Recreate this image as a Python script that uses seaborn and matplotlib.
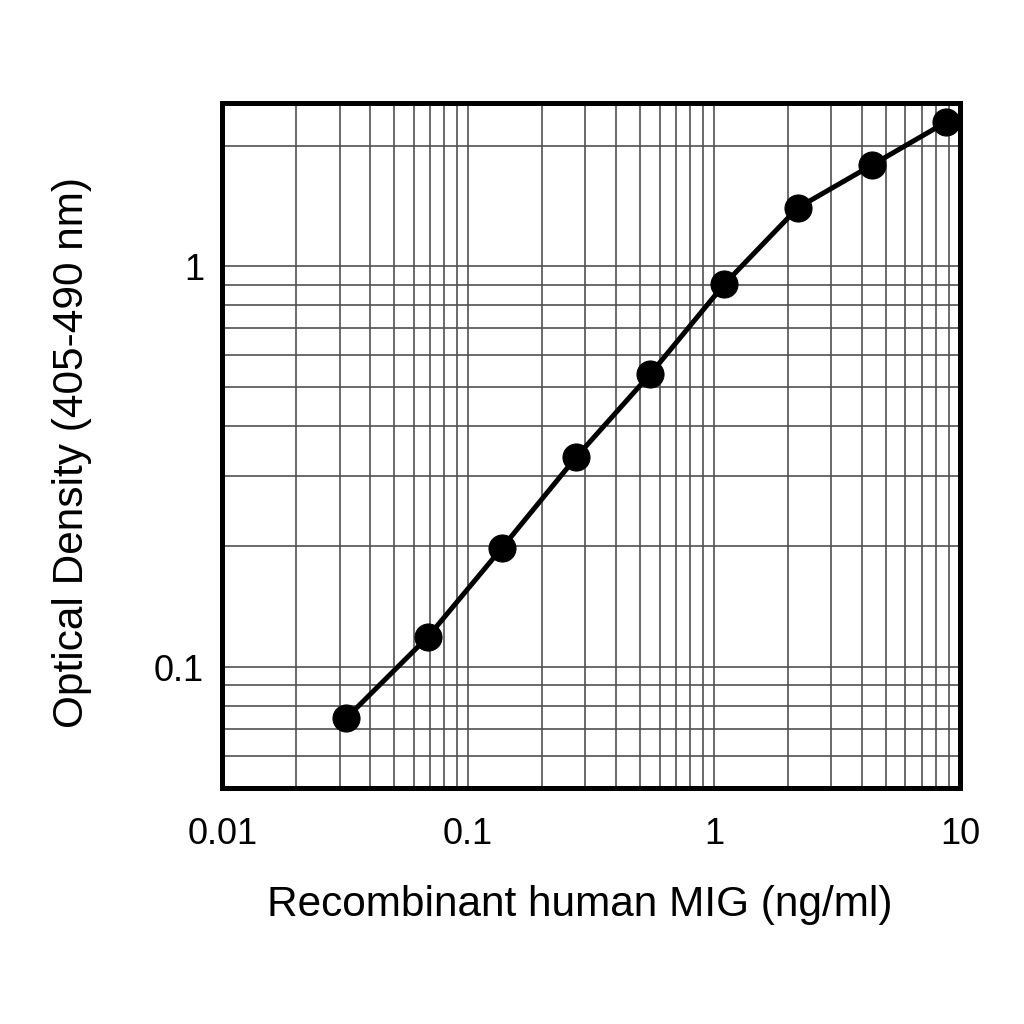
import matplotlib
matplotlib.use("Agg")
import matplotlib.pyplot as plt
import matplotlib.ticker as mticker
import seaborn as sns
import pandas as pd

concentration = [0.032, 0.0687, 0.137, 0.275, 0.55, 1.1, 2.19, 4.39, 8.77]
optical_density = [0.0746, 0.119, 0.198, 0.334, 0.538, 0.902, 1.40, 1.79, 2.29]
x_ticks = [0.01, 0.1, 1, 10]
x_tick_labels = ["0.01", "0.1", "1", "10"]
y_ticks = [0.1, 1]
y_tick_labels = ["0.1", "1"]

sns.set_style("white")
plt.rcParams['font.family'] = ['Liberation Sans', 'DejaVu Sans']

df = pd.DataFrame({"conc": concentration, "od": optical_density})

fig = plt.figure(figsize=(10.24, 10.24), dpi=100)
ax = fig.add_axes([0.217, 0.2305, 0.7205, 0.6685])

ax.set_xscale("log")
ax.set_yscale("log")
ax.set_xlim(0.01, 10)
ax.set_ylim(0.0499, 2.55)

ax.xaxis.set_major_locator(mticker.FixedLocator(x_ticks))
ax.xaxis.set_minor_locator(mticker.LogLocator(base=10, subs=range(2, 10), numticks=20))
ax.yaxis.set_major_locator(mticker.FixedLocator(y_ticks))
ax.yaxis.set_minor_locator(mticker.LogLocator(base=10, subs=range(2, 10), numticks=20))
ax.set_xticklabels(x_tick_labels)
ax.set_yticklabels(y_tick_labels)
ax.xaxis.set_minor_formatter(mticker.NullFormatter())
ax.yaxis.set_minor_formatter(mticker.NullFormatter())

ax.grid(True, which="both", color="#505050", linewidth=1.2)
ax.set_axisbelow(True)

sns.lineplot(data=df, x="conc", y="od", ax=ax, color="black", linewidth=3.6,
             marker="o", markersize=19.5, markeredgecolor="black", markerfacecolor="black")

for s in ax.spines.values():
    s.set_linewidth(3.6)
    s.set_color("black")
    s.set_visible(True)

ax.tick_params(axis="both", which="both", length=0, labelsize=26, colors="black")
ax.tick_params(axis="x", pad=21)
ax.tick_params(axis="y", pad=13)

ax.set_xlabel("Recombinant human MIG (ng/ml)", fontsize=30.5, labelpad=24, color="black")
ax.set_ylabel("Optical Density (405-490 nm)", fontsize=30.5, labelpad=45, color="black")
ax.xaxis.label.set_x(0.485)
ax.yaxis.label.set_y(0.49)

fig.savefig("out.png", dpi=100, facecolor="white")
